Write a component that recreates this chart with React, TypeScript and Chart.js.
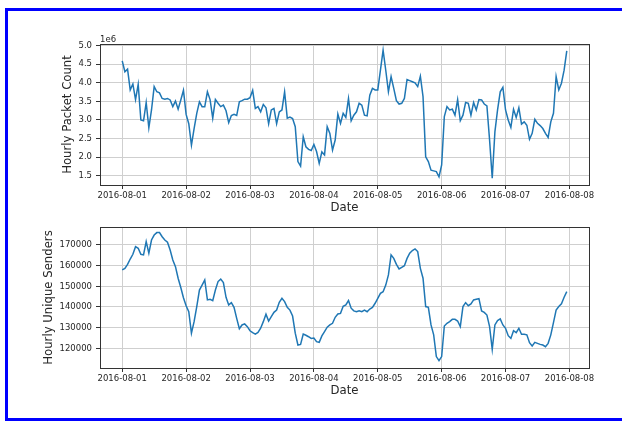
import { useEffect, useRef } from 'react';
import { Chart, registerables } from 'chart.js';

Chart.register(...registerables);

// Day boundaries on the x axis (hours since 2016-08-01 00:00, one tick every 24 h)
const dayLabels = [
  '2016-08-01', '2016-08-02', '2016-08-03', '2016-08-04',
  '2016-08-05', '2016-08-06', '2016-08-07', '2016-08-08',
];

// Hourly packet count, in units of 1e6
const packetCountMillions = [
  // 08-01
  4.59, 4.30, 4.37, 3.81, 3.97, 3.55, 3.96, 3.00, 2.98, 3.47, 2.79, 3.27,
  3.90, 3.76, 3.73, 3.58, 3.56, 3.58, 3.54, 3.36, 3.51, 3.29, 3.54, 3.80,
  // 08-02
  3.15, 2.90, 2.32, 2.77, 3.18, 3.49, 3.36, 3.36, 3.76, 3.55, 3.05, 3.55,
  3.45, 3.36, 3.40, 3.25, 2.93, 3.12, 3.15, 3.12, 3.49, 3.52, 3.56, 3.56,
  // 08-03
  3.60, 3.80, 3.31, 3.36, 3.22, 3.42, 3.33, 2.90, 3.27, 3.31, 2.90, 3.22,
  3.27, 3.76, 3.05, 3.08, 3.04, 2.82, 1.88, 1.76, 2.55, 2.28, 2.21, 2.18,
  // 08-04
  2.34, 2.15, 1.83, 2.14, 2.06, 2.82, 2.64, 2.19, 2.46, 3.16, 2.91, 3.18,
  3.07, 3.58, 2.98, 3.13, 3.22, 3.45, 3.40, 3.13, 3.11, 3.67, 3.85, 3.81,
  // 08-05
  3.81, 4.34, 4.88, 4.34, 3.76, 4.17, 3.85, 3.52, 3.43, 3.45, 3.58, 4.09,
  4.06, 4.03, 4.00, 3.90, 4.18, 3.63, 2.01, 1.88, 1.65, 1.63, 1.61, 1.47,
  // 08-06
  1.79, 3.09, 3.36, 3.27, 3.29, 3.13, 3.55, 2.98, 3.13, 3.47, 3.45, 3.13,
  3.47, 3.27, 3.55, 3.54, 3.43, 3.38, 2.46, 1.43, 2.68, 3.27, 3.76, 3.88,
  // 08-07
  3.27, 3.00, 2.80, 3.29, 3.07, 3.33, 2.89, 2.95, 2.86, 2.48, 2.64, 3.02,
  2.91, 2.85, 2.77, 2.64, 2.53, 2.95, 3.18, 4.17, 3.81, 3.99, 4.34, 4.86,
];

// Hourly unique senders
const uniqueSenders = [
  // 08-01
  157900, 158700, 160600, 163200, 165500, 169200, 168400, 165500, 165200, 171600, 166000, 172400,
  174800, 176000, 176000, 174000, 172400, 171300, 167600, 162700, 159500, 153900, 149400, 144500,
  // 08-02
  140600, 137700, 127300, 132900, 140200, 148200, 150600, 153100, 143400, 143700, 143100, 148200,
  152300, 153500, 151800, 144700, 141000, 142100, 139800, 134500, 129500, 131300, 131800, 130500,
  // 08-03
  128500, 127600, 126900, 127700, 129700, 132900, 136500, 133200, 135300, 137400, 138500, 142300,
  144200, 142600, 139800, 138500, 135600, 127300, 121600, 121900, 126900, 126300, 125600, 124800,
  // 08-04
  125000, 123200, 122900, 126000, 128100, 130200, 131300, 132100, 135000, 136600, 136900, 140300,
  141000, 143100, 139400, 138100, 137700, 138200, 137700, 138500, 137700, 139000, 139800, 141800,
  // 08-05
  144200, 146600, 147400, 150600, 155500, 165200, 163500, 160600, 158400, 159200, 160000, 163500,
  166000, 167300, 168100, 166800, 158700, 153900, 140200, 139800, 131300, 126500, 116000, 114000,
  // 08-06
  116000, 130800, 132100, 132900, 134000, 134000, 133200, 130500, 140200, 142100, 140600, 141500,
  143400, 143700, 144000, 138100, 137400, 136100, 130500, 119500, 131300, 133400, 134200, 131300,
  // 08-07
  129700, 126100, 124800, 128500, 127600, 129700, 126800, 126800, 126500, 122700, 121100, 122900,
  122400, 121900, 121600, 120800, 122400, 126500, 132400, 138500, 140200, 141500, 144700, 147400,
];

const packetTicks = [1.5, 2.0, 2.5, 3.0, 3.5, 4.0, 4.5, 5.0];
const senderTicks = [120000, 130000, 140000, 150000, 160000, 170000];

const FONT = "'DejaVu Sans', sans-serif";
const LINE_COLOR = '#1f77b4';
const TEXT_COLOR = '#262626';
const SPINE_COLOR = '#333333';
const GRID_COLOR = '#cfcfcf';

// Closed box around the plotting area (top and right spines included)
const framePlugin = {
  id: 'frame',
  afterDraw(chart: any) {
    const { ctx, chartArea } = chart;
    const { left, right, top, bottom } = chartArea;
    ctx.save();
    ctx.strokeStyle = SPINE_COLOR;
    ctx.lineWidth = 1;
    ctx.strokeRect(Math.round(left) + 0.5, Math.round(top) + 0.5,
      Math.round(right) - Math.round(left), Math.round(bottom) - Math.round(top));
    ctx.restore();
  },
};

// Scale multiplier shown above the y axis
const offsetTextPlugin = (text: string) => ({
  id: 'offsetText',
  afterDraw(chart: any) {
    const { ctx, chartArea } = chart;
    ctx.save();
    ctx.font = `8.5px ${FONT}`;
    ctx.fillStyle = TEXT_COLOR;
    ctx.textAlign = 'left';
    ctx.textBaseline = 'alphabetic';
    ctx.fillText(text, chartArea.left, chartArea.top - 2.5);
    ctx.restore();
  },
});

type PanelSpec = {
  series: number[];
  yTicks: number[];
  yMin: number;
  yMax: number;
  yTitle: string;
  yFormat: (v: number) => string;
  padLeft: number;
  padTop: number;
  padBottom: number;
  yWidth: number;
  xHeight: number;
  extraPlugins: any[];
};

function buildConfig(p: PanelSpec): any {
  const hourSpan = p.series.length - 1;
  const margin = hourSpan * 0.05;
  return {
    type: 'line',
    data: {
      datasets: [
        {
          data: p.series.map((v, i) => ({ x: i, y: v })),
          borderColor: LINE_COLOR,
          borderWidth: 1.5,
          pointRadius: 0,
          fill: false,
          tension: 0,
        },
      ],
    },
    options: {
      animation: false,
      responsive: false,
      maintainAspectRatio: false,
      layout: { padding: { left: p.padLeft, top: p.padTop, right: 33, bottom: p.padBottom } },
      plugins: { legend: { display: false }, tooltip: { enabled: false } },
      scales: {
        x: {
          type: 'linear',
          min: -margin,
          max: hourSpan + margin,
          afterBuildTicks: (s: any) => {
            s.ticks = dayLabels.map((_, i) => ({ value: i * 24 }));
          },
          afterFit: (s: any) => {
            s.height = p.xHeight;
          },
          ticks: {
            callback: (v: number) => dayLabels[Math.round(v / 24)],
            font: { family: FONT, size: 8.5 },
            color: TEXT_COLOR,
            padding: 2,
            maxRotation: 0,
            autoSkip: false,
          },
          grid: { color: GRID_COLOR, tickColor: SPINE_COLOR, tickLength: 4, lineWidth: 1 },
          border: { color: SPINE_COLOR, width: 1 },
          title: {
            display: true,
            text: 'Date',
            font: { family: FONT, size: 11.7 },
            color: TEXT_COLOR,
            padding: 0,
          },
        },
        y: {
          type: 'linear',
          min: p.yMin,
          max: p.yMax,
          afterBuildTicks: (s: any) => {
            s.ticks = p.yTicks.map((v) => ({ value: v }));
          },
          afterFit: (s: any) => {
            s.width = p.yWidth;
          },
          ticks: {
            callback: (v: number) => p.yFormat(v),
            font: { family: FONT, size: 8.5 },
            color: TEXT_COLOR,
            padding: 4,
            autoSkip: false,
          },
          grid: { color: GRID_COLOR, tickColor: SPINE_COLOR, tickLength: 4, lineWidth: 1 },
          border: { color: SPINE_COLOR, width: 1 },
          title: {
            display: true,
            text: p.yTitle,
            font: { family: FONT, size: 11.7 },
            color: TEXT_COLOR,
            padding: 0,
          },
        },
      },
    },
    plugins: [framePlugin, ...p.extraPlugins],
  };
}

function Panel({ spec, top, height }: { spec: PanelSpec; top: number; height: number }) {
  const ref = useRef<HTMLCanvasElement | null>(null);
  useEffect(() => {
    if (!ref.current) return;
    const chart = new Chart(ref.current, buildConfig(spec));
    return () => chart.destroy();
  }, [spec]);
  return (
    <canvas
      ref={ref}
      width={622}
      height={height}
      style={{ position: 'absolute', left: 0, top, width: 622, height }}
    />
  );
}

const packetPanel: PanelSpec = {
  series: packetCountMillions,
  yTicks: packetTicks,
  yMin: 1.25,
  yMax: 5.046,
  yTitle: 'Hourly Packet Count',
  yFormat: (v) => v.toFixed(1),
  padLeft: 61,
  padTop: 44,
  padBottom: 0,
  yWidth: 39,
  xHeight: 30,
  extraPlugins: [offsetTextPlugin('1e6')],
};

const senderPanel: PanelSpec = {
  series: uniqueSenders,
  yTicks: senderTicks,
  yMin: 110470,
  yMax: 178700,
  yTitle: 'Hourly Unique Senders',
  yFormat: (v) => String(Math.round(v)),
  padLeft: 42,
  padTop: 12,
  padBottom: 23.5,
  yWidth: 58,
  xHeight: 29.5,
  extraPlugins: [],
};

export default function App() {
  return (
    <div
      style={{
        position: 'fixed',
        left: 0,
        top: 0,
        width: 622,
        height: 421,
        overflow: 'hidden',
        background: '#ffffff',
      }}
    >
      <div
        style={{
          position: 'absolute',
          left: 5,
          top: 8,
          width: 700,
          height: 413,
          boxSizing: 'border-box',
          border: '3px solid #0000ff',
        }}
      />
      <Panel spec={packetPanel} top={0} height={215} />
      <Panel spec={senderPanel} top={215} height={206} />
    </div>
  );
}
